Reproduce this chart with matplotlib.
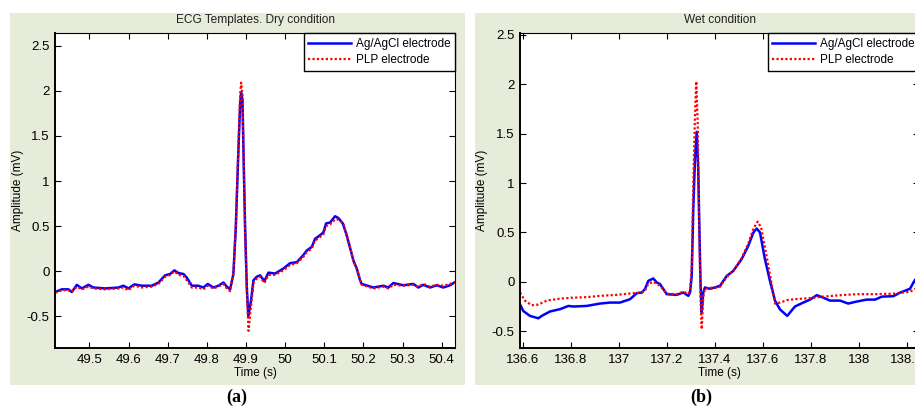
import matplotlib
matplotlib.use("Agg")
import matplotlib.pyplot as plt
from matplotlib.patches import Rectangle
from matplotlib.ticker import FuncFormatter

plt.rcParams['font.family'] = ['Liberation Sans', 'DejaVu Sans']

# ---------------- data: dry condition ----------------
dry_t_agcl = [49.4124, 49.4295, 49.4464, 49.4550, 49.4678, 49.4806, 49.4974, 49.5102,
              49.5401, 49.5741, 49.5868, 49.5996, 49.6149, 49.6338, 49.6594, 49.6762,
              49.6934, 49.7061, 49.7171, 49.7273, 49.7401, 49.7488, 49.7616, 49.7784,
              49.7912, 49.8024, 49.8167, 49.8295, 49.8423, 49.8510, 49.8594, 49.8678,
              49.8740, 49.8806, 49.8850, 49.8875, 49.8910, 49.8940, 49.8977, 49.9020,
              49.9060, 49.9130, 49.9190, 49.9276, 49.9360, 49.9470, 49.9572, 49.9743,
              49.9955, 50.0126, 50.0298, 50.0466, 50.0553, 50.0680, 50.0765, 50.0893,
              50.0977, 50.1046, 50.1148, 50.1276, 50.1360, 50.1473, 50.1557, 50.1641,
              50.1743, 50.1830, 50.1915, 50.1958, 50.2254, 50.2510, 50.2637, 50.2765,
              50.3020, 50.3276, 50.3404, 50.3531, 50.3703, 50.3874, 50.4042, 50.4213,
              50.4341]
dry_v_agcl = [-0.23, -0.20, -0.20, -0.23, -0.15, -0.19, -0.15, -0.18,
              -0.19, -0.18, -0.16, -0.19, -0.145, -0.16, -0.16, -0.125,
              -0.045, -0.03, 0.01, -0.02, -0.03, -0.07, -0.16, -0.16,
              -0.18, -0.14, -0.18, -0.16, -0.125, -0.17, -0.20, -0.03,
              0.49, 1.34, 1.85, 1.98, 1.90, 1.23, 0.49, -0.17,
              -0.50, -0.32, -0.10, -0.06, -0.045, -0.11, -0.015, -0.025,
              0.03, 0.09, 0.10, 0.18, 0.23, 0.27, 0.36, 0.40,
              0.43, 0.53, 0.54, 0.61, 0.59, 0.53, 0.42, 0.29,
              0.12, 0.03, -0.10, -0.14, -0.18, -0.16, -0.18, -0.13,
              -0.155, -0.14, -0.18, -0.15, -0.18, -0.155, -0.18, -0.155,
              -0.12]

dry_t_plp = [49.4124, 49.4295, 49.4464, 49.4550, 49.4678, 49.4806, 49.4974, 49.5102,
             49.5401, 49.5741, 49.5868, 49.5996, 49.6149, 49.6338, 49.6594, 49.6762,
             49.6934, 49.7061, 49.7171, 49.7273, 49.7401, 49.7488, 49.7616, 49.7784,
             49.7912, 49.8024, 49.8167, 49.8295, 49.8423, 49.8510, 49.8594, 49.8678,
             49.8740, 49.8806, 49.8850, 49.8875, 49.8910, 49.8940, 49.8977, 49.9020,
             49.9065, 49.9130, 49.9190, 49.9276, 49.9360, 49.9470, 49.9572, 49.9743,
             49.9955, 50.0126, 50.0298, 50.0466, 50.0553, 50.0680, 50.0765, 50.0893,
             50.0977, 50.1046, 50.1148, 50.1290, 50.1380, 50.1490, 50.1570, 50.1650,
             50.1750, 50.1840, 50.1915, 50.1958, 50.2254, 50.2510, 50.2637, 50.2765,
             50.3020, 50.3276, 50.3404, 50.3531, 50.3703, 50.3874, 50.4042, 50.4213,
             50.4341]
dry_v_plp = [-0.24, -0.21, -0.21, -0.23, -0.17, -0.20, -0.17, -0.19,
             -0.20, -0.19, -0.18, -0.21, -0.16, -0.18, -0.17, -0.14,
             -0.06, -0.04, 0.00, -0.04, -0.05, -0.10, -0.18, -0.18,
             -0.20, -0.16, -0.19, -0.17, -0.14, -0.19, -0.22, -0.02,
             0.52, 1.40, 1.95, 2.09, 1.95, 1.25, 0.45, -0.22,
             -0.66, -0.38, -0.13, -0.08, -0.06, -0.13, -0.04, -0.04,
             0.01, 0.07, 0.09, 0.16, 0.21, 0.25, 0.34, 0.38,
             0.41, 0.50, 0.52, 0.58, 0.57, 0.52, 0.41, 0.28,
             0.11, 0.02, -0.10, -0.15, -0.19, -0.17, -0.19, -0.15,
             -0.16, -0.15, -0.17, -0.14, -0.17, -0.15, -0.16, -0.14,
             -0.12]

# ---------------- data: wet condition ----------------
wet_t_agcl = [136.5875, 136.601, 136.629, 136.664, 136.678, 136.7125, 136.754, 136.789,
              136.81, 136.865, 136.921, 136.9625, 137.004, 137.046, 137.074, 137.095,
              137.108, 137.122, 137.143, 137.157, 137.171, 137.199, 137.24, 137.268,
              137.289, 137.296, 137.303, 137.3096, 137.3167, 137.3238, 137.330, 137.3346,
              137.340, 137.3446, 137.351, 137.358, 137.379, 137.40, 137.421, 137.449,
              137.476, 137.511, 137.539, 137.56, 137.574, 137.5875, 137.608, 137.629,
              137.65, 137.671, 137.701, 137.733, 137.768, 137.796, 137.824, 137.851,
              137.879, 137.921, 137.955, 137.99, 138.032, 138.067, 138.095, 138.143,
              138.171, 138.2125, 138.233, 138.25]
wet_v_agcl = [-0.227, -0.295, -0.345, -0.369, -0.345, -0.30, -0.277, -0.244,
              -0.25, -0.244, -0.22, -0.21, -0.21, -0.176, -0.115, -0.108,
              -0.074, 0.01, 0.034, -0.006, -0.023, -0.125, -0.132, -0.108,
              -0.142, -0.108, 0.06, 0.74, 1.25, 1.52, 1.145, 0.57,
              -0.04, -0.31, -0.108, -0.057, -0.07, -0.057, -0.04, 0.06,
              0.11, 0.23, 0.366, 0.50, 0.54, 0.50, 0.23, 0.01,
              -0.19, -0.28, -0.345, -0.25, -0.21, -0.18, -0.135, -0.16,
              -0.19, -0.19, -0.22, -0.20, -0.18, -0.18, -0.15, -0.145,
              -0.11, -0.07, 0.02, 0.05]

wet_t_plp = [136.5875, 136.608, 136.636, 136.664, 136.699, 136.754, 136.81, 136.865,
             136.921, 136.99, 137.06, 137.095, 137.108, 137.122, 137.143, 137.157,
             137.171, 137.199, 137.24, 137.268, 137.289, 137.296, 137.303, 137.3096,
             137.3167, 137.322, 137.328, 137.3346, 137.340, 137.3446, 137.351, 137.358,
             137.379, 137.40, 137.421, 137.449, 137.476, 137.511, 137.539, 137.56,
             137.578, 137.592, 137.612, 137.633, 137.65, 137.671, 137.701, 137.733,
             137.768, 137.796, 137.851, 137.921, 137.99, 138.067, 138.143, 138.2125,
             138.25]
wet_v_plp = [-0.108, -0.19, -0.237, -0.23, -0.19, -0.17, -0.16, -0.155,
             -0.142, -0.132, -0.115, -0.11, -0.09, -0.02, 0.0, -0.02,
             -0.04, -0.12, -0.125, -0.10, -0.12, -0.09, 0.15, 1.0,
             1.70, 2.03, 1.60, 0.5, -0.2, -0.48, -0.15, -0.07,
             -0.06, -0.06, -0.05, 0.05, 0.11, 0.24, 0.39, 0.54,
             0.61, 0.55, 0.30, 0.02, -0.22, -0.21, -0.185, -0.175,
             -0.17, -0.165, -0.15, -0.135, -0.125, -0.125, -0.12, -0.10,
             -0.05]

dry_xticks = [49.5, 49.6, 49.7, 49.8, 49.9, 50.0, 50.1, 50.2, 50.3, 50.4]
wet_xticks = [136.6, 136.8, 137.0, 137.2, 137.4, 137.6, 137.8, 138.0, 138.2]
yticks = [-0.5, 0, 0.5, 1, 1.5, 2, 2.5]
series_labels = ['Ag/AgCl electrode', 'PLP electrode']
titles = ['ECG Templates. Dry condition', 'Wet condition']
panel_tags = ['(a)', '(b)']

# ---------------- figure ----------------
W, H = 915, 407
fig = plt.figure(figsize=(W / 100, H / 100), dpi=100)
bg = '#E6EBDA'

def px_rect(x0, y0, x1, y1):
    return [x0 / W, 1 - y1 / H, (x1 - x0) / W, (y1 - y0) / H]

for (x0, x1) in [(10, 465), (475, 930)]:
    r = px_rect(x0, 13, x1, 385)
    fig.patches.append(Rectangle((r[0], r[1]), r[2], r[3], transform=fig.transFigure,
                                 facecolor=bg, edgecolor='none', zorder=-10))

ax1 = fig.add_axes(px_rect(55, 33, 455, 348))
ax2 = fig.add_axes(px_rect(520, 33, 919, 348))

fmt = FuncFormatter(lambda v, p: ('%g' % round(v, 3)))

def style(ax, title, xticks, xlim, ylim, ylab_x):
    ax.set_facecolor('white')
    ax.set_xlim(*xlim)
    ax.set_ylim(*ylim)
    ax.set_xticks(xticks)
    ax.set_yticks(yticks)
    ax.xaxis.set_major_formatter(fmt)
    ax.yaxis.set_major_formatter(fmt)
    ax.tick_params(direction='in', top=True, right=True, length=4, width=0.8,
                   labelsize=9.5, colors='black', pad=4)
    for side in ['left', 'bottom']:
        ax.spines[side].set_linewidth(1.4)
    for side in ['top', 'right']:
        ax.spines[side].set_linewidth(0.8)
    ax.set_title(title, fontsize=8.6, pad=7, color='#222222')
    ax.set_xlabel('Time (s)', fontsize=8.5, labelpad=1)
    ax.set_ylabel('Amplitude (mV)', fontsize=8.5)
    ax.yaxis.set_label_coords(ylab_x, 0.5)

style(ax1, titles[0], dry_xticks, (49.412, 50.434), (-0.85, 2.64), -0.078)
style(ax2, titles[1], wet_xticks, (136.5875, 138.25), (-0.67, 2.52), -0.081)

for ax, tb, vb, tr, vr in [(ax1, dry_t_agcl, dry_v_agcl, dry_t_plp, dry_v_plp),
                           (ax2, wet_t_agcl, wet_v_agcl, wet_t_plp, wet_v_plp)]:
    ax.plot(tb, vb, color='#0000FF', lw=1.8, label=series_labels[0], solid_joinstyle='round')
    ax.plot(tr, vr, color='#FF0000', lw=1.6, ls=(0, (1, 1)), label=series_labels[1])
    leg = ax.legend(loc='upper right', borderaxespad=0, fancybox=False, framealpha=1,
                    edgecolor='black', fontsize=8.5, handlelength=3.6, handletextpad=0.4,
                    borderpad=0.4, labelspacing=0.4)
    leg.get_frame().set_linewidth(1.0)

fig.text(237 / W, 1 - 397 / H, panel_tags[0], ha='center', va='center',
         fontsize=13, fontweight='bold', family=['Liberation Serif', 'DejaVu Serif'])
fig.text(701 / W, 1 - 397 / H, panel_tags[1], ha='center', va='center',
         fontsize=13, fontweight='bold', family=['Liberation Serif', 'DejaVu Serif'])

fig.savefig('out.png', dpi=100, facecolor='white')
